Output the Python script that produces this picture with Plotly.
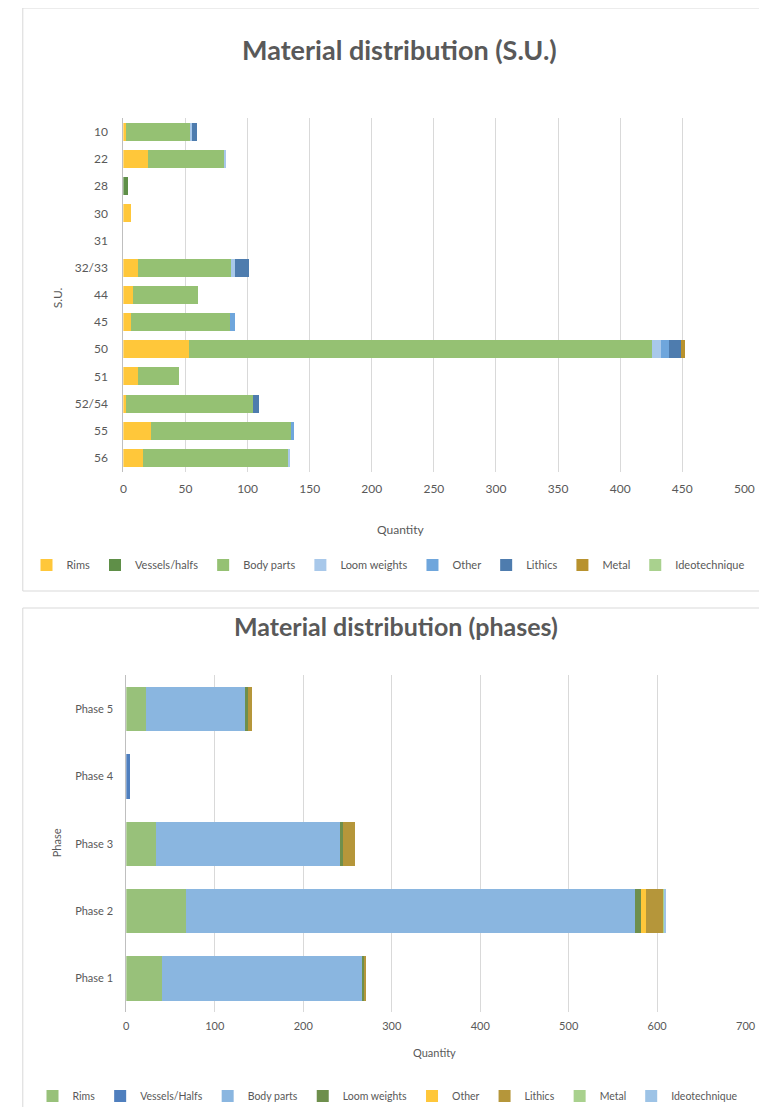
import plotly.graph_objects as go

# --- data: material distribution per stratigraphic unit (S.U.)
su_labels = ["10", "22", "28", "30", "31", "32/33", "44", "45", "50", "51", "52/54", "55", "56"]
su_rims = [2, 20, 0, 6, 0, 12, 8, 6, 53, 12, 2, 22, 16]
su_vessels = [0, 0, 4, 0, 0, 0, 0, 0, 0, 0, 0, 0, 0]
su_body = [52, 61, 0, 0, 0, 75, 52, 80, 373, 33, 102, 113, 117]
su_loom = [1, 2, 0, 0, 0, 3, 0, 0, 7, 0, 0, 0, 1]
su_other = [0, 0, 0, 0, 0, 0, 0, 4, 6, 0, 0, 2, 0]
su_lithics = [4, 0, 0, 0, 0, 11, 0, 0, 10, 0, 5, 0, 0]
su_metal = [0, 0, 0, 0, 0, 0, 0, 0, 3, 0, 0, 0, 0]
su_ideo = [0, 0, 0, 0, 0, 0, 0, 0, 0, 0, 0, 0, 0]

# --- data: material distribution per phase
phases = ["Phase 1", "Phase 2", "Phase 3", "Phase 4", "Phase 5"]
ph_rims = [40, 68, 34, 0, 22]
ph_vessels = [0, 0, 0, 4, 0]
ph_body = [227, 507, 207, 0, 112]
ph_loom = [2, 7, 4, 0, 3]
ph_other = [0, 5, 0, 0, 0]
ph_lithics = [2, 20, 13, 0, 5]
ph_metal = [0, 2, 0, 0, 0]
ph_ideo = [0, 1, 0, 0, 0]

W, H = 767, 1107
FONT = "Lato"
GREY = "#595959"
GRID = "#d9d9d9"


def fx(p):
    return p / W


def fy(p):
    return 1 - p / H


fig = go.Figure()

su_series = [
    ("Rims", su_rims, "#FFC73A"),
    ("Vessels/halfs", su_vessels, "#5F8F48"),
    ("Body parts", su_body, "#95C173"),
    ("Loom weights", su_loom, "#A8C8EA"),
    ("Other", su_other, "#6FA6DC"),
    ("Lithics", su_lithics, "#4E7CAE"),
    ("Metal", su_metal, "#B8922E"),
    ("Ideotechnique", su_ideo, "#A9D18E"),
]
for name, vals, color in su_series:
    fig.add_trace(go.Bar(
        y=su_labels, x=vals, name=name, orientation="h",
        marker=dict(color=color, line_width=0),
        xaxis="x", yaxis="y", legend="legend",
    ))

ph_series = [
    ("Rims", ph_rims, "#98C17A"),
    ("Vessels/Halfs", ph_vessels, "#4F7FBE"),
    ("Body parts", ph_body, "#8AB6E0"),
    ("Loom weights", ph_loom, "#6E8F4C"),
    ("Other", ph_other, "#FFC73A"),
    ("Lithics", ph_lithics, "#B5963A"),
    ("Metal", ph_metal, "#A9D18E"),
    ("Ideotechnique", ph_ideo, "#9DC3E6"),
]
for name, vals, color in ph_series:
    fig.add_trace(go.Bar(
        y=phases, x=vals, name=name, orientation="h",
        marker=dict(color=color, line_width=0),
        xaxis="x2", yaxis="y2", legend="legend2",
    ))

tickfont = dict(family=FONT, size=12, color=GREY)

fig.update_layout(
    width=W, height=H, autosize=False,
    margin=dict(l=0, r=0, t=0, b=0),
    paper_bgcolor="white", plot_bgcolor="white",
    barmode="stack", bargap=0.34,
    font=dict(family=FONT, color=GREY),
    xaxis=dict(
        domain=[fx(114.3), fx(746)], anchor="y", range=[0, 500], dtick=50,
        showgrid=True, gridcolor=GRID, zeroline=False, showline=False,
        tickfont=tickfont, ticklabelstandoff=8, fixedrange=True,
    ),
    yaxis=dict(
        domain=[fy(463.5), fy(110.2)], anchor="x", autorange="reversed",
        showgrid=False, showline=True, linecolor="#bfbfbf", linewidth=1,
        tickfont=tickfont, ticklabelstandoff=12, fixedrange=True,
    ),
    xaxis2=dict(
        domain=[fx(117.3), fx(747.3)], anchor="y2", range=[0, 700], dtick=100,
        showgrid=True, gridcolor=GRID, zeroline=False, showline=False,
        tickfont=dict(family=FONT, size=11, color=GREY), ticklabelstandoff=6, fixedrange=True,
    ),
    yaxis2=dict(
        domain=[fy(1004.2), fy(667.3)], anchor="x2",
        showgrid=False, showline=True, linecolor="#bfbfbf", linewidth=1,
        tickfont=dict(family=FONT, size=11, color=GREY), ticklabelstandoff=10, fixedrange=True,
    ),
    legend=dict(
        orientation="h", x=0.5, xanchor="center", y=fy(557), yanchor="middle",
        font=dict(family=FONT, size=11, color=GREY), itemwidth=30,
        traceorder="normal", bgcolor="rgba(0,0,0,0)",
    ),
    legend2=dict(
        orientation="h", x=0.5, xanchor="center", y=fy(1088), yanchor="middle",
        font=dict(family=FONT, size=10.5, color=GREY), itemwidth=30,
        traceorder="normal", bgcolor="rgba(0,0,0,0)",
    ),
)

# chart frames
fig.add_shape(type="rect", xref="paper", yref="paper",
              x0=fx(12), x1=fx(766), y0=fy(583), y1=fy(0),
              line=dict(color=GRID, width=1), fillcolor="rgba(0,0,0,0)", layer="below")
fig.add_shape(type="rect", xref="paper", yref="paper",
              x0=fx(12), x1=fx(766), y0=fy(1110), y1=fy(600),
              line=dict(color=GRID, width=1), fillcolor="rgba(0,0,0,0)", layer="below")

texts = [
    ("Material distribution (S.U.)", 395, 42, 27, True, 0),
    ("Material distribution (phases)", 392, 618, 25, True, 0),
    ("Quantity", 396, 521, 12, False, 0),
    ("Quantity", 431, 1044, 11, False, 0),
    ("S.U.", 48, 290, 12, False, -90),
    ("Phase", 46, 835, 11, False, -90),
]
for txt, x, y, size, bold, ang in texts:
    fig.add_annotation(
        text=f"<b>{txt}</b>" if bold else txt,
        xref="paper", yref="paper", x=fx(x), y=fy(y),
        xanchor="center", yanchor="middle", showarrow=False, textangle=ang,
        font=dict(family=FONT, size=size, color=GREY),
    )

fig.write_html("out.html")
